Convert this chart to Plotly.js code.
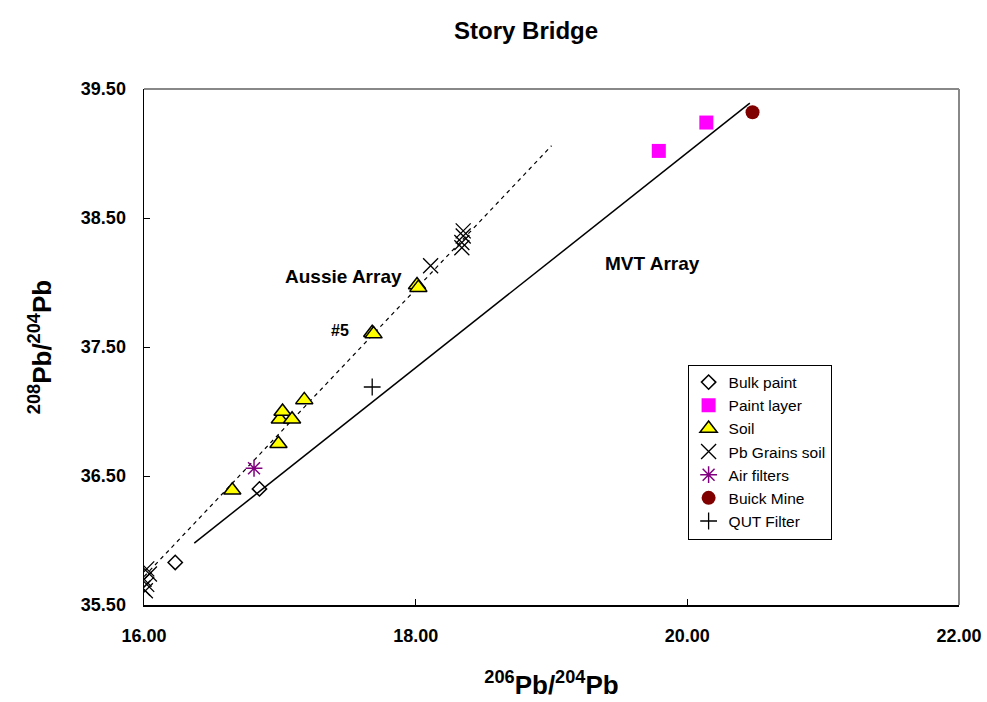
<!DOCTYPE html>
<html>
<head>
<meta charset="utf-8">
<script src="https://cdn.plot.ly/plotly-3.0.1.min.js"></script>
<style>html,body{margin:0;padding:0;background:#fff;}#chart{width:987px;height:702px;}</style>
</head>
<body>
<div id="chart"></div>
<script>
// Data
const bulkX = [16.23, 16.85];
const bulkY = [35.83, 36.40];
const paintX = [19.79, 20.14];
const paintY = [39.02, 39.24];
const soilX = [16.65, 16.99, 17.00, 17.02, 17.09, 17.18, 17.68, 17.69, 18.01, 18.02];
const soilY = [36.39, 36.75, 36.94, 37.00, 36.94, 37.09, 37.61, 37.60, 37.98, 37.96];
const grainsX = [16.02, 16.04, 16.00, 16.02, 15.99, 16.01, 18.11, 18.35, 18.35, 18.34, 18.34];
const grainsY = [35.78, 35.74, 35.70, 35.66, 35.63, 35.61, 38.13, 38.40, 38.36, 38.31, 38.27];
const airX = [16.81];
const airY = [36.56];
const buickX = [20.48];
const buickY = [39.32];
const qutX = [17.68];
const qutY = [37.19];
const mvtX = [16.37, 20.46];
const mvtY = [35.98, 39.39];
const aussieX = [16.0, 19.0];
const aussieY = [35.72, 39.06];
const xTicks = [16, 18, 20, 22];
const yTicks = [35.5, 36.5, 37.5, 38.5, 39.5];

const FONT = "Arial, 'Liberation Sans', sans-serif";

const traces = [
  {x: mvtX, y: mvtY, mode: 'lines', line: {color: '#000', width: 1.5}, showlegend: false, hoverinfo: 'skip'},
  {x: aussieX, y: aussieY, mode: 'lines', line: {color: '#000', width: 1.2, dash: '4px,4px'}, showlegend: false, hoverinfo: 'skip'},
  {x: bulkX, y: bulkY, mode: 'markers', name: 'Bulk paint',
   marker: {symbol: 'diamond-open', size: 11, color: '#000', line: {width: 1.5}}},
  {x: paintX, y: paintY, mode: 'markers', name: 'Paint layer',
   marker: {symbol: 'square', size: 14, color: '#FF00FF'}},
  {x: soilX, y: soilY, mode: 'markers', name: 'Soil',
   marker: {symbol: 'triangle-up', size: 15, color: '#FFFF00', line: {color: '#000', width: 1.5}}},
  {x: grainsX, y: grainsY, mode: 'markers', name: 'Pb Grains soil',
   marker: {symbol: 'x-thin-open', size: 15, color: '#000', line: {color: '#000', width: 1.3}}},
  {x: airX, y: airY, mode: 'markers', name: 'Air filters',
   marker: {symbol: 'asterisk-open', size: 14, color: '#800080', line: {color: '#800080', width: 1.5}}},
  {x: buickX, y: buickY, mode: 'markers', name: 'Buick Mine',
   marker: {symbol: 'circle', size: 14, color: '#800000'}},
  {x: qutX, y: qutY, mode: 'markers', name: 'QUT Filter',
   marker: {symbol: 'cross-thin-open', size: 12, color: '#000', line: {color: '#000', width: 1.3}}}
];

const layout = {
  width: 987, height: 702,
  paper_bgcolor: '#fff', plot_bgcolor: '#fff',
  margin: {l: 144, r: 28, t: 89, b: 97},
  font: {family: FONT, color: '#000'},
  title: {text: 'Story Bridge', x: 0.533, xref: 'container', xanchor: 'center', y: 0.957, yref: 'container', yanchor: 'middle',
          font: {size: 24, weight: 'bold', family: FONT, color: '#000'}},
  xaxis: {
    range: [16, 22], tickvals: xTicks, tickformat: '.2f',
    showgrid: false, zeroline: false,
    showline: true, linecolor: '#000', linewidth: 1.5,
    ticks: 'inside', ticklen: 6, tickcolor: '#000', tickwidth: 1,
    ticklabelstandoff: 14,
    tickfont: {size: 18, weight: 'bold', family: FONT, color: '#000'},
    title: {text: '<sup>206</sup>Pb/<sup>204</sup>Pb', standoff: 30, font: {size: 26, weight: 'bold', family: FONT, color: '#000'}}
  },
  yaxis: {
    range: [35.5, 39.5], tickvals: yTicks, tickformat: '.2f',
    showgrid: false, zeroline: false,
    showline: true, linecolor: '#000', linewidth: 1.5,
    ticks: 'inside', ticklen: 6, tickcolor: '#000', tickwidth: 1,
    ticklabelstandoff: 13,
    tickfont: {size: 18, weight: 'bold', family: FONT, color: '#000'},
    title: {text: '<sup>208</sup>Pb/<sup>204</sup>Pb', standoff: 22, font: {size: 26, weight: 'bold', family: FONT, color: '#000'}}
  },
  shapes: [
    {type: 'line', xref: 'paper', yref: 'paper', x0: 0, x1: 1, y0: 1, y1: 1, line: {color: '#888', width: 2}},
    {type: 'line', xref: 'paper', yref: 'paper', x0: 1, x1: 1, y0: 0, y1: 1, line: {color: '#888', width: 2}}
  ],
  annotations: [
    {x: 17.47, y: 38.05, xref: 'x', yref: 'y', text: 'Aussie Array', showarrow: false,
     font: {size: 19, weight: 'bold', family: FONT, color: '#000'}},
    {x: 19.74, y: 38.15, xref: 'x', yref: 'y', text: 'MVT Array', showarrow: false,
     font: {size: 19, weight: 'bold', family: FONT, color: '#000'}},
    {x: 17.44, y: 37.63, xref: 'x', yref: 'y', text: '#5', showarrow: false,
     font: {size: 16, weight: 'bold', family: FONT, color: '#000'}}
  ],
  legend: {
    x: 0.667, y: 0.466, xanchor: 'left', yanchor: 'top',
    bordercolor: '#000', borderwidth: 1, bgcolor: '#fff',
    font: {size: 15.5, family: FONT, color: '#000'},
    tracegroupgap: 0, itemwidth: 30
  }
};

Plotly.newPlot('chart', traces, layout, {displayModeBar: false, staticPlot: true});
</script>
</body>
</html>
